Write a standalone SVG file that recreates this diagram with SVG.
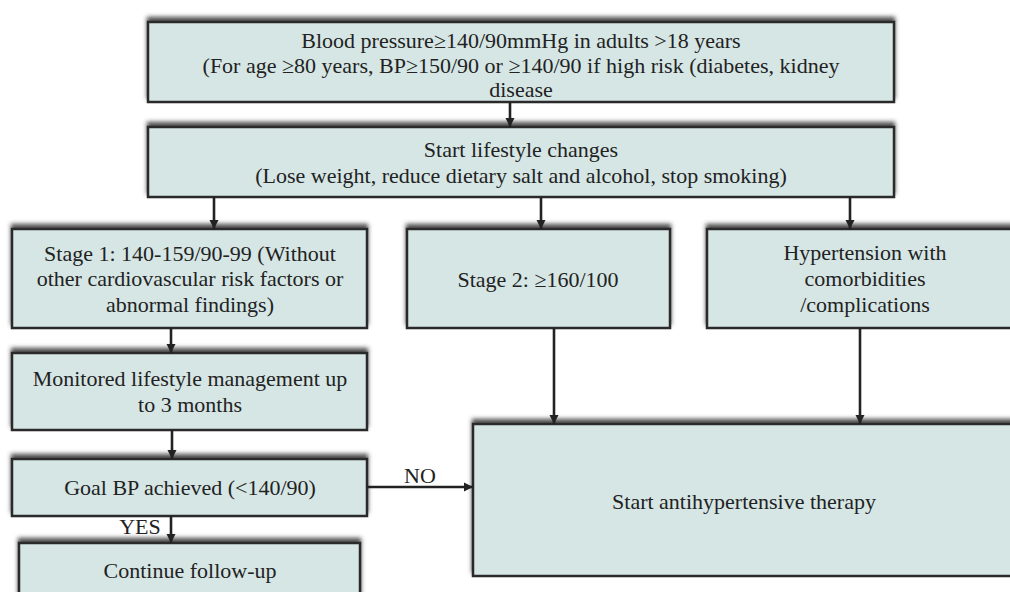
<svg xmlns="http://www.w3.org/2000/svg" width="1010" height="592" viewBox="0 0 1010 592">
<defs>
<style>
.box{fill:#d5e6e5;stroke:#2a2a2a;stroke-width:2.5;filter:url(#sh)}
.t{font-family:"Liberation Serif","Times New Roman",serif;font-size:22px;fill:#222;text-anchor:middle}
.c{stroke:#222;stroke-width:2.6;fill:none;marker-end:url(#ah)}
</style>
<filter id="sh" x="-5%" y="-20%" width="110%" height="140%">
<feGaussianBlur in="SourceAlpha" stdDeviation="2.2" result="b"/>
<feOffset in="b" dx="0" dy="-4" result="o"/>
<feFlood flood-color="#333" flood-opacity="0.85"/>
<feComposite in2="o" operator="in" result="s"/>
<feMerge><feMergeNode in="s"/><feMergeNode in="SourceGraphic"/></feMerge>
</filter>
<marker id="ah" viewBox="0 0 10 10" refX="10" refY="5" markerWidth="3.6" markerHeight="3.6" orient="auto" markerUnits="strokeWidth">
<path d="M0,0 L10,5 L0,10 z" fill="#222"/>
</marker>
</defs>
<rect width="1010" height="592" fill="#fff"/>
<g id="n1">
<rect class="box" x="148" y="22" width="746" height="80"/>
<text class="t" x="521" y="48">Blood pressure≥140/90mmHg in adults &gt;18 years</text>
<text class="t" x="521" y="72.5">(For age ≥80 years, BP≥150/90 or ≥140/90 if high risk (diabetes, kidney</text>
<text class="t" x="521" y="97">disease</text>
</g>
<g id="n2">
<rect class="box" x="148" y="127" width="746" height="70"/>
<text class="t" x="521" y="157">Start lifestyle changes</text>
<text class="t" x="521" y="183">(Lose weight, reduce dietary salt and alcohol, stop smoking)</text>
</g>
<g id="n3">
<rect class="box" x="12" y="229" width="355" height="99"/>
<text class="t" x="190" y="261">Stage 1: 140-159/90-99 (Without</text>
<text class="t" x="190" y="286">other cardiovascular risk factors or</text>
<text class="t" x="190" y="312">abnormal findings)</text>
</g>
<g id="n4">
<rect class="box" x="407" y="229" width="263" height="99"/>
<text class="t" x="538" y="287">Stage 2: ≥160/100</text>
</g>
<g id="n5">
<rect class="box" x="707" y="229" width="316" height="99"/>
<text class="t" x="865" y="260">Hypertension with</text>
<text class="t" x="865" y="286">comorbidities</text>
<text class="t" x="865" y="312">/complications</text>
</g>
<g id="n6">
<rect class="box" x="12" y="353" width="355" height="77"/>
<text class="t" x="190" y="386">Monitored lifestyle management up</text>
<text class="t" x="190" y="412">to 3 months</text>
</g>
<g id="n7">
<rect class="box" x="12" y="459" width="355" height="57"/>
<text class="t" x="190" y="495">Goal BP achieved (&lt;140/90)</text>
</g>
<g id="n8">
<rect class="box" x="19" y="543" width="341" height="70"/>
<text class="t" x="190" y="578">Continue follow-up</text>
</g>
<g id="n9">
<rect class="box" x="473" y="424" width="545" height="152"/>
<text class="t" x="744" y="509">Start antihypertensive therapy</text>
</g>
<g id="connectors">
<line class="c" x1="510" y1="102" x2="510" y2="127"/>
<line class="c" x1="214" y1="197" x2="214" y2="229"/>
<line class="c" x1="541" y1="197" x2="541" y2="229"/>
<line class="c" x1="850" y1="197" x2="850" y2="229"/>
<line class="c" x1="171" y1="328" x2="171" y2="353"/>
<line class="c" x1="172" y1="430" x2="172" y2="459"/>
<line class="c" x1="171" y1="516" x2="171" y2="543"/>
<line class="c" x1="367" y1="487" x2="473" y2="487"/>
<line class="c" x1="554" y1="328" x2="554" y2="424"/>
<line class="c" x1="860" y1="328" x2="860" y2="424"/>
<text class="t" x="420" y="483">NO</text>
<text class="t" x="140" y="534">YES</text>
</g>
</svg>
